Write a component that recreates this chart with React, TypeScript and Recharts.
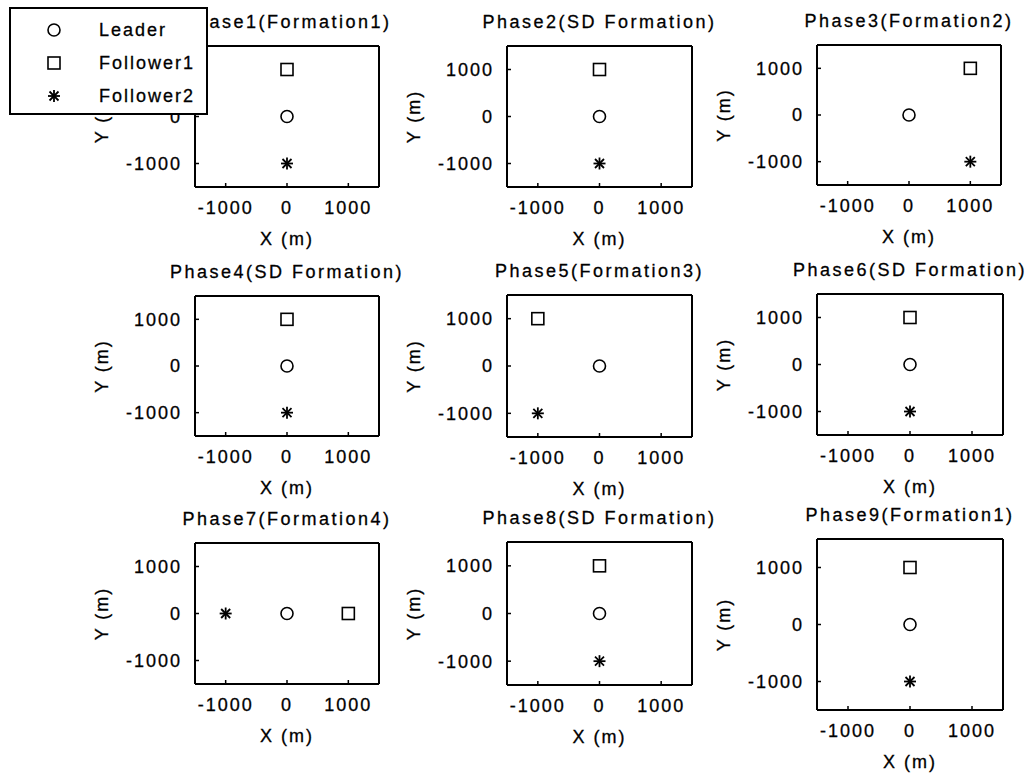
import React from 'react';
import { ScatterChart, Scatter, XAxis, YAxis } from 'recharts';

// ---------------- data ----------------
const phaseTitles = [
  'Phase1(Formation1)',
  'Phase2(SD Formation)',
  'Phase3(Formation2)',
  'Phase4(SD Formation)',
  'Phase5(Formation3)',
  'Phase6(SD Formation)',
  'Phase7(Formation4)',
  'Phase8(SD Formation)',
  'Phase9(Formation1)',
];
const seriesNames = ['Leader', 'Follower1', 'Follower2'];
const leaderX = [0, 0, 0, 0, 0, 0, 0, 0, 0];
const leaderY = [0, 0, 0, 0, 0, 0, 0, 0, 0];
const follower1X = [0, 0, 1000, 0, -1000, 0, 1000, 0, 0];
const follower1Y = [1000, 1000, 1000, 1000, 1000, 1000, 0, 1000, 1000];
const follower2X = [0, 0, 1000, 0, -1000, 0, -1000, 0, 0];
const follower2Y = [-1000, -1000, -1000, -1000, -1000, -1000, 0, -1000, -1000];
const axisTicks = [-1000, 0, 1000];
const axisDomain = [-1500, 1500];
const xAxisTitle = 'X (m)';
const yAxisTitle = 'Y (m)';

// ---------------- layout ----------------
const PLOT_BOXES = [
  { left: 195, top: 46, w: 184, h: 141 },
  { left: 507, top: 46, w: 185, h: 141 },
  { left: 817, top: 45, w: 184, h: 140 },
  { left: 195, top: 296, w: 184, h: 140 },
  { left: 507, top: 295, w: 185, h: 142 },
  { left: 817, top: 294, w: 186, h: 141 },
  { left: 195, top: 543, w: 184, h: 141 },
  { left: 507, top: 542, w: 185, h: 143 },
  { left: 817, top: 539, w: 186, h: 171 },
];
const FONT = '"Liberation Sans", Arial, Helvetica, sans-serif';
const FS = 18;
const ML = 110;
const MT = 40;
const MR = 50;
const MB = 64;

const axisLineStyle = { stroke: '#000', strokeWidth: 2 };
const tickLineStyle = { stroke: '#000', strokeWidth: 1.5 };

// ---------------- markers ----------------
const CircleMark = ({ cx, cy }: any) => (
  <circle cx={cx} cy={cy} r={6} fill="#fff" stroke="#000" strokeWidth={1.6} />
);
const SquareMark = ({ cx, cy }: any) => (
  <rect x={cx - 6} y={cy - 6} width={12} height={12} fill="#fff" stroke="#000" strokeWidth={1.6} />
);
const StarMark = ({ cx, cy }: any) => (
  <g stroke="#000" strokeWidth={1.8}>
    <line x1={cx - 6} y1={cy} x2={cx + 6} y2={cy} />
    <line x1={cx} y1={cy - 6} x2={cx} y2={cy + 6} />
    <line x1={cx - 4.5} y1={cy - 4.5} x2={cx + 4.5} y2={cy + 4.5} />
    <line x1={cx - 4.5} y1={cy + 4.5} x2={cx + 4.5} y2={cy - 4.5} />
  </g>
);
const markers = [CircleMark, SquareMark, StarMark];

const textProps = {
  fill: '#000',
  stroke: '#000',
  strokeWidth: 0.3,
  fontFamily: FONT,
  fontSize: FS,
  letterSpacing: 2,
};

function BottomTick(p: any) {
  return (
    <text x={p.x} y={p.y} dy="0.71em" textAnchor="middle" {...textProps}>
      {String(p.payload.value)}
    </text>
  );
}
function LeftTick(p: any) {
  return (
    <text x={p.x} y={p.y} dy="0.355em" textAnchor="end" {...textProps}>
      {String(p.payload.value)}
    </text>
  );
}

function PhaseChart({ i }: { i: number }) {
  const box = PLOT_BOXES[i];
  const series = [
    [{ x: leaderX[i], y: leaderY[i] }],
    [{ x: follower1X[i], y: follower1Y[i] }],
    [{ x: follower2X[i], y: follower2Y[i] }],
  ];
  const title = phaseTitles[i];
  return (
    <div style={{ position: 'absolute', left: box.left - ML, top: box.top - MT }}>
      <ScatterChart
        width={ML + box.w + MR}
        height={MT + box.h + MB}
        margin={{ top: MT - 1, right: MR - 1, bottom: 0, left: 0 }}
      >
        <XAxis
          xAxisId="top"
          orientation="top"
          type="number"
          dataKey="x"
          domain={axisDomain}
          ticks={axisTicks}
          allowDataOverflow
          height={1}
          tick={false}
          tickSize={-4}
          axisLine={axisLineStyle}
          tickLine={tickLineStyle}
          label={{
            content: (lp: any) => {
              const vb = lp.viewBox || { x: ML, y: MT - 1, width: box.w, height: 1 };
              return (
                <text
                  x={vb.x + vb.width / 2}
                  y={vb.y + vb.height - 18.5}
                  textAnchor="middle"
                  {...textProps}
                  letterSpacing={2.5}
                >
                  {title}
                </text>
              );
            },
          }}
        />
        <XAxis
          xAxisId="bottom"
          orientation="bottom"
          type="number"
          dataKey="x"
          domain={axisDomain}
          ticks={axisTicks}
          allowDataOverflow
          height={MB}
          tickSize={-4}
          tickMargin={18.6}
          tick={BottomTick}
          axisLine={axisLineStyle}
          tickLine={tickLineStyle}
          label={{
            content: (lp: any) => {
              const vb = lp.viewBox || { x: ML, y: MT + box.h, width: box.w, height: MB };
              return (
                <text x={vb.x + vb.width / 2} y={vb.y + 58} textAnchor="middle" {...textProps}>
                  {xAxisTitle}
                </text>
              );
            },
          }}
        />
        <YAxis
          yAxisId="left"
          orientation="left"
          type="number"
          dataKey="y"
          domain={axisDomain}
          ticks={axisTicks}
          allowDataOverflow
          width={ML}
          tickSize={-4}
          tickMargin={17}
          tick={LeftTick}
          axisLine={axisLineStyle}
          tickLine={tickLineStyle}
          label={{
            content: (lp: any) => {
              const vb = lp.viewBox || { x: 0, y: MT, width: ML, height: box.h };
              const cx = vb.x + vb.width - 93;
              const cy = vb.y + vb.height / 2;
              return (
                <text
                  x={cx}
                  y={cy}
                  dy="0.355em"
                  textAnchor="middle"
                  transform={`rotate(-90, ${cx}, ${cy})`}
                  {...textProps}
                >
                  {yAxisTitle}
                </text>
              );
            },
          }}
        />
        <YAxis
          yAxisId="right"
          orientation="right"
          type="number"
          dataKey="y"
          domain={axisDomain}
          ticks={axisTicks}
          allowDataOverflow
          width={1}
          tick={false}
          tickSize={-4}
          axisLine={axisLineStyle}
          tickLine={tickLineStyle}
        />
        {series.map((d, k) => (
          <Scatter
            key={seriesNames[k]}
            name={seriesNames[k]}
            data={d}
            xAxisId="bottom"
            yAxisId="left"
            shape={markers[k]}
            isAnimationActive={false}
          />
        ))}
      </ScatterChart>
    </div>
  );
}

function LegendBox() {
  return (
    <div
      style={{
        position: 'absolute',
        left: 9,
        top: 7,
        width: 199,
        height: 108,
        boxSizing: 'border-box',
        border: '2px solid #000',
        background: '#fff',
        zIndex: 10,
      }}
    >
      <svg width={195} height={104} style={{ display: 'block' }}>
        {seriesNames.map((name, k) => {
          const M = markers[k];
          const cy = 21 + k * 33;
          return (
            <g key={name}>
              <M cx={43} cy={cy} />
              <text x={88} y={cy} dy="0.355em" {...textProps}>
                {name}
              </text>
            </g>
          );
        })}
      </svg>
    </div>
  );
}

export default function App() {
  return (
    <div
      style={{
        position: 'absolute',
        left: 0,
        top: 0,
        width: 1028,
        height: 774,
        background: '#fff',
        overflow: 'hidden',
        fontFamily: FONT,
      }}
    >
      {phaseTitles.map((_, i) => (
        <PhaseChart key={i} i={i} />
      ))}
      <LegendBox />
    </div>
  );
}
